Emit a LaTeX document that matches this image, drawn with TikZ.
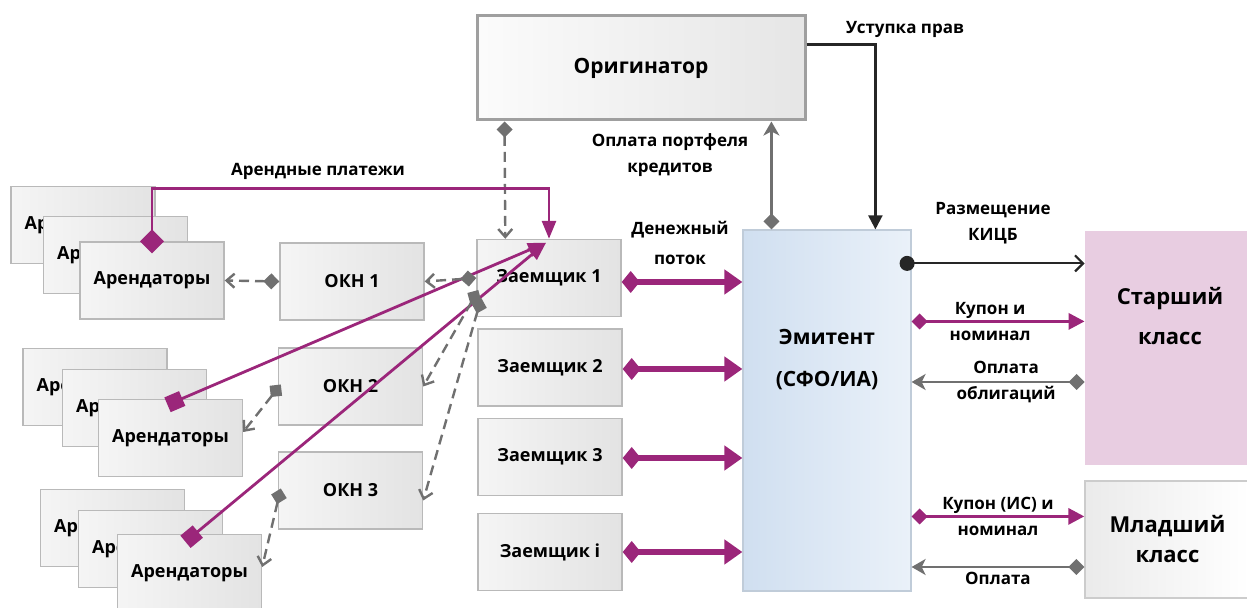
\documentclass[tikz,border=0pt]{standalone}
\usepackage{fontspec}
\setmainfont{Open Sans}
\usetikzlibrary{arrows.meta,calc,positioning}

\definecolor{plum}{RGB}{155,38,122}
\definecolor{arrgray}{RGB}{112,112,112}
\definecolor{boxline}{RGB}{185,185,185}
\definecolor{emitA}{RGB}{208,223,240}
\definecolor{emitB}{RGB}{234,241,249}
\definecolor{seniorfill}{RGB}{232,205,225}

\newcommand{\boxfnt}{\fontsize{9}{11}\selectfont\bfseries}
\newcommand{\lblfnt}{\fontsize{8.5}{13}\selectfont\bfseries}

\tikzset{
  box/.style={draw=boxline, line width=0.7pt, left color=gray!8, right color=gray!22,
    minimum width=72pt, minimum height=38.5pt, inner sep=0pt, font=\boxfnt},
  lbl/.style={font=\lblfnt, text=black, align=center, inner sep=1pt},
  dasharr/.style={arrgray, line width=1.2pt, dash pattern=on 5pt off 3pt,
    {Diamond[length=8pt,width=8pt]}-{Straight Barb[length=4pt,width=7pt]}},
  grayarr/.style={arrgray, line width=1.2pt,
    {Diamond[length=8pt,width=8pt]}-{Stealth[length=7pt,width=8pt,inset=2pt]}},
  rentarr/.style={plum, line width=1.4pt,
    {Diamond[length=12pt,width=12pt]}-{Triangle[length=9pt,width=7pt]}},
  rentsq/.style={plum, line width=1.4pt,
    {Square[length=8pt,width=8pt]}-{Triangle[length=9pt,width=7pt]}},
  flowarr/.style={plum, line width=3pt,
    {Diamond[length=9pt,width=11pt]}-{Triangle[length=9pt,width=12pt]}},
  couparr/.style={plum, line width=1.6pt,
    {Diamond[length=8pt,width=8pt]}-{Triangle[length=8pt,width=8pt]}},
  blackarr/.style={black!85, line width=1.1pt, -{Triangle[length=7pt,width=7pt]}},
  dotarr/.style={black!85, line width=1.1pt, {Circle[length=7.5pt]}-{Straight Barb[length=4pt,width=8pt]}}
}

\begin{document}
\begin{tikzpicture}[x=0.5pt,y=-0.5pt]
  \useasboundingbox (0,0) rectangle (1247,608);

  % boxes
  \node[box, draw=gray!75, line width=1.5pt, left color=gray!3, right color=gray!20,
    minimum width=164pt, minimum height=52pt, font=\fontsize{10.5}{12}\selectfont\bfseries] (orig) at (641,68) {Оригинатор};

  \foreach \g/\ax/\ay/\bx/\by/\fx/\fy in {1/83/225/115.5/255/152/280.5, 2/95/387/134.5/408/170.5/438, 3/112.5/528/150.5/549/189.5/573}{
    \node[box] (rent\g-a) at (\ax,\ay) {Арендаторы};
    \node[box] (rent\g-b) at (\bx,\by) {Арендаторы};
    \node[box] (rent\g) at (\fx,\fy) {Арендаторы};
  }

  \node[box] (okn1) at (352,281.5) {ОКН 1};
  \node[box] (okn2) at (350.5,386.5) {ОКН 2};
  \node[box] (okn3) at (350.5,490.5) {ОКН 3};

  \node[box] (zaem1) at (549,278) {Заемщик 1};
  \node[box] (zaem2) at (550,367.5) {Заемщик 2};
  \node[box] (zaem3) at (550,457) {Заемщик 3};
  \node[box] (zaemi) at (550,552) {Заемщик i};

  \node[draw=emitA!80!gray, line width=0.6pt, left color=emitA, right color=emitB,
    minimum width=84pt, minimum height=180.5pt, inner sep=0pt] (emit) at (827,410.5) {};
  \node[font=\fontsize{10.5}{21}\selectfont\bfseries, align=center] (emittxt) at (827,360) {Эмитент\\(СФО/ИА)};

  \node[fill=seniorfill, minimum width=81pt, minimum height=117pt, inner sep=0pt] (senior) at (1166,348) {};
  \node[font=\fontsize{11}{20}\selectfont\bfseries, align=center] (seniortxt) at (1170,316) {Старший\\класс};

  \node[draw=gray!40, line width=0.7pt, left color=gray!16, right color=white,
    minimum width=82.5pt, minimum height=58.5pt, inner sep=0pt, align=center,
    font=\fontsize{11}{15}\selectfont\bfseries] (junior) at (1167.5,539.5) {Младший\\класс};

  % connectors on the left
  \draw[dasharr] ($(orig.south west)+(29,0)$) -- ($(zaem1.north west)+(29,0)$);

  \coordinate (rentTop) at ($(zaem1.north)+(0,-50)$);
  \draw[rentarr] ($(rent1.north)+(0,12)$) |- (rentTop) -- (zaem1.north);
  \node[lbl] (rentlbl) at (318,171) {Арендные платежи};
  \draw[rentsq] ($(rent2.north)+(-3,6)$) -- ($(zaem1.north)+(-3,4)$);
  \draw[rentsq] ($(rent3.north)+(-4,8)$) -- ($(zaem1.north)+(-3,4)$);

  \draw[dasharr] (zaem1.west) -- (okn1.east);
  \draw[dasharr] ($(zaem1.west)+(2,12)$) -- (okn2.east);
  \draw[dasharr] ($(zaem1.west)+(5,20)$) -- ($(okn3.east)+(0,10)$);

  \draw[dasharr] (okn1.west) -- (rent1.east);
  \draw[dasharr] ($(okn2.west)+(3,-2)$) -- ($(rent2.east)+(0,-6)$);
  \draw[dasharr] ($(okn3.west)+(3,-2)$) -- ($(rent3.east)+(0,-6)$);

  % cash flow to the issuer
  \foreach \k/\dy in {1/4, 2/1.5, 3/1, i/0}
    \draw[flowarr] ($(zaem\k.east)+(0,\dy)$) -- ($(zaem\k.east -| emit.west)+(0,\dy)$);
  \node[lbl, align=center] (flowlbl) at (680,243) {Денежный\\[2pt]поток};

  % originator and issuer
  \coordinate (emitL) at ($(emit.north west)+(29,0)$);
  \draw[grayarr] (emitL) -- (emitL |- orig.south);
  \node[lbl] (paylbl) at (670,155) {Оплата портфеля\\кредитов};

  \coordinate (origR) at ($(orig.north east)+(0,30)$);
  \coordinate (emitR) at ($(emit.north west)+(133,0)$);
  \draw[blackarr] (origR) -| (emitR);
  \node[lbl] (cesslbl) at (905,29) {Уступка прав};

  % issuer and classes
  \coordinate (kicb) at ($(emit.north east)+(-12,34)$);
  \draw[dotarr] (kicb) -- (kicb -| senior.west);
  \node[lbl] (kicblbl) at (993,223) {Размещение\\КИЦБ};

  \coordinate (cpn) at ($(emit.north east)+(0,92)$);
  \draw[couparr] (cpn) -- (cpn -| senior.west) node[lbl, midway, xshift=-4pt] (cpnlbl) {Купон и\\номинал};

  \coordinate (pay) at ($(senior.west)+(0,34)$);
  \draw[grayarr] (pay) -- (pay -| emit.east) node[lbl, midway, xshift=4pt] (bondlbl) {Оплата\\облигаций};

  \coordinate (cpnj) at ($(emit.north east)+(0,287)$);
  \draw[couparr] (cpnj) -- (cpnj -| junior.west) node[lbl, midway] (cpnjlbl) {Купон (ИС) и\\номинал};

  \coordinate (payj) at ($(junior.west)+(0,27.5)$);
  \draw[grayarr] (payj) -- (payj -| emit.east) node[lbl, midway, below=1pt] (payjlbl) {Оплата};
\end{tikzpicture}
\end{document}
